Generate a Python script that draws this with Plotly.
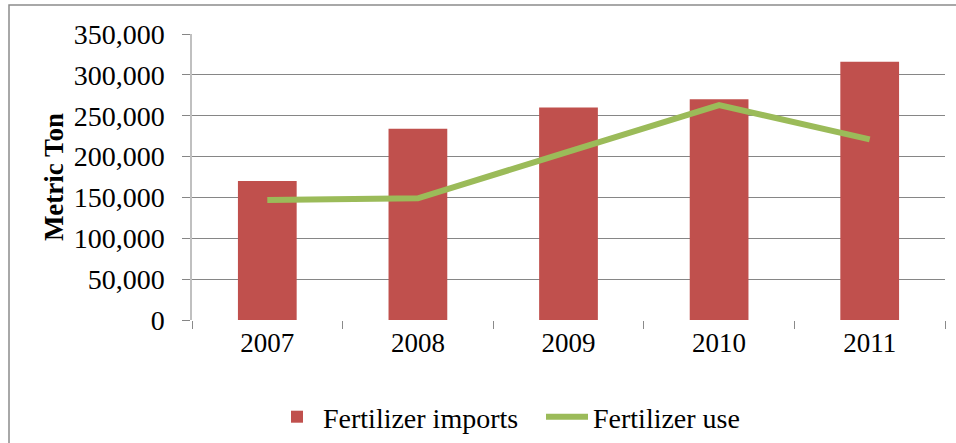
import plotly.graph_objects as go

years = ["2007", "2008", "2009", "2010", "2011"]
imports = [170000, 234000, 260000, 270000, 316000]
use = [147000, 149000, 206000, 263000, 221000]
y_ticks = [0, 50000, 100000, 150000, 200000, 250000, 300000, 350000]
y_tick_text = ["0", "50,000", "100,000", "150,000", "200,000", "250,000", "300,000", "350,000"]

FONT = "Liberation Serif"

L, R, T, B = 192, 11, 34, 123
PW, PH = 956 - L - R, 443 - T - B

fig = go.Figure()
fig.add_trace(go.Bar(x=years, y=imports, name="Fertilizer imports",
                     marker=dict(color="#C0504D", line=dict(width=0)), width=0.39))
fig.add_trace(go.Scatter(x=years, y=use, name="Fertilizer use", mode="lines",
                         line=dict(color="#9BBB59", width=6)))

fig.update_layout(
    width=956, height=443,
    margin=dict(l=L, r=R, t=T, b=B, autoexpand=False),
    paper_bgcolor="white", plot_bgcolor="white",
    font=dict(family=FONT, size=27, color="black"),
    showlegend=True,
    legend=dict(orientation="h", x=(271 - L) / PW, xanchor="left",
                y=(320 - 417) / PH, yanchor="middle",
                font=dict(size=28, family=FONT, color="black"), itemwidth=42,
                entrywidth=213, entrywidthmode="pixels",
                traceorder="normal", bgcolor="rgba(0,0,0,0)"),
    shapes=[dict(type="rect", xref="paper", yref="paper",
                 x0=(9 - L) / PW, x1=(965 - L) / PW, y0=(320 - 450) / PH, y1=(320 - 5) / PH,
                 line=dict(color="#8c8c8c", width=1.5), fillcolor="rgba(0,0,0,0)", layer="below")],
)
fig.update_xaxes(type="category", showgrid=False, showline=False, zeroline=False,
                 ticks="outside", tickson="boundaries", ticklen=8, tickcolor="#8a8a8a",
                 ticklabelstandoff=4,
                 tickfont=dict(size=27, family=FONT, color="black"))
fig.update_yaxes(range=[0, 350000], tickvals=y_ticks, ticktext=y_tick_text,
                 showgrid=True, gridcolor="#868686", gridwidth=1,
                 showline=True, linecolor="#c0c0c0", linewidth=1.5,
                 ticks="outside", ticklen=8, tickcolor="#868686", zeroline=False,
                 ticklabelstandoff=12, automargin=False,
                 tickfont=dict(size=28, family=FONT, color="black"),
                 title=dict(text="<b>Metric Ton</b>", font=dict(size=27, family=FONT, color="black"), standoff=2))

fig.write_html("out.html", config={"displayModeBar": False},
               post_script="document.body.style.margin='0';")
